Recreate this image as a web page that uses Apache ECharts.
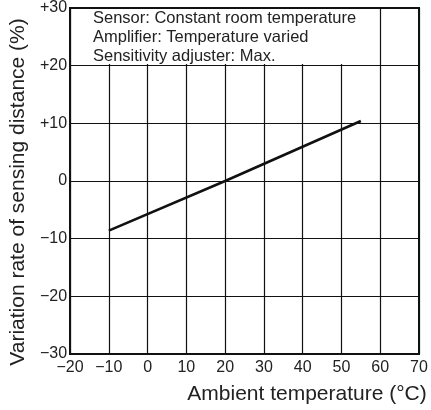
<!DOCTYPE html>
<html>
<head>
<meta charset="utf-8">
<script src="https://cdn.jsdelivr.net/npm/echarts@6/dist/echarts.min.js"></script>
<style>html,body{margin:0;padding:0;background:#fff;}#c{width:431px;height:410px;}</style>
</head>
<body>
<div id="c"></div>
<script>
const ambientTemp = [-10, 20, 55];
const variationRate = [-8.6, 0, 10.4];
const xTicks = [-20, -10, 0, 10, 20, 30, 40, 50, 60, 70];
const xTickLabels = ['\u221220', '\u221210', '0', '10', '20', '30', '40', '50', '60', '70'];
const yTicks = [-30, -20, -10, 0, 10, 20, 30];
const yTickLabels = ['\u221230', '\u221220', '\u221210', '0', '+10', '+20', '+30'];
const noteLines = ['Sensor: Constant room temperature', 'Amplifier: Temperature varied', 'Sensitivity adjuster: Max.'];
const xName = 'Ambient temperature (\u00b0C)';
const yName = 'Variation rate of sensing distance (%)';

const chart = echarts.init(document.getElementById('c'), null, {renderer: 'canvas'});
const font = 'Liberation Sans, Arial, Helvetica, sans-serif';
chart.setOption({
  animation: false,
  backgroundColor: '#fff',
  grid: {left: 62, right: 12, top: 3, bottom: 52, show: true, borderColor: '#111', borderWidth: 2, backgroundColor: 'transparent'},
  xAxis: [{
    type: 'value', min: -20, max: 70, interval: 10,
    axisLine: {show: true, onZero: false, lineStyle: {color: '#111', width: 2}},
    axisTick: {show: false},
    splitLine: {show: true, lineStyle: {color: '#111', width: 1.2}},
    axisLabel: {color: '#222', fontSize: 16, fontFamily: font, margin: 6,
      formatter: v => xTickLabels[xTicks.indexOf(v)]},
    name: xName, nameLocation: 'middle', nameGap: 30,
    nameTextStyle: {color: '#222', fontSize: 21, fontFamily: font, padding: [0, 0, 0, 125]}
  }, {
    type: 'value', position: 'top', min: -20, max: 70, interval: 10, z: 200,
    axisLine: {show: true, onZero: false, lineStyle: {color: '#111', width: 2}},
    axisTick: {show: false}, axisLabel: {show: false}, splitLine: {show: false}
  }],
  yAxis: {
    type: 'value', min: -30, max: 30, interval: 10,
    axisLine: {show: true, onZero: false, lineStyle: {color: '#111', width: 2}},
    axisTick: {show: false},
    splitLine: {show: true, lineStyle: {color: '#111', width: 1.2}},
    axisLabel: {color: '#222', fontSize: 16, fontFamily: font, margin: 3,
      formatter: v => yTickLabels[yTicks.indexOf(v)]},
    name: yName, nameLocation: 'middle', nameGap: 41,
    nameTextStyle: {color: '#222', fontSize: 21, fontFamily: font, padding: [0, 22, 0, 0]}
  },
  series: [{
    type: 'line',
    xAxisIndex: 0,
    data: ambientTemp.map((t, i) => [t, variationRate[i]]),
    showSymbol: false,
    lineStyle: {color: '#111', width: 2.6},
    z: 5
  }],
  graphic: [
    {type: 'rect', z: 100, shape: {x: 85, y: 6, width: 271, height: 58}, style: {fill: '#fff', stroke: null}},
    {type: 'text', z: 101, x: 93, y: 9, style: {text: noteLines.join('\n'), fill: '#222', font: '16.5px ' + font, lineHeight: 19}}
  ]
});
</script>
</body>
</html>
